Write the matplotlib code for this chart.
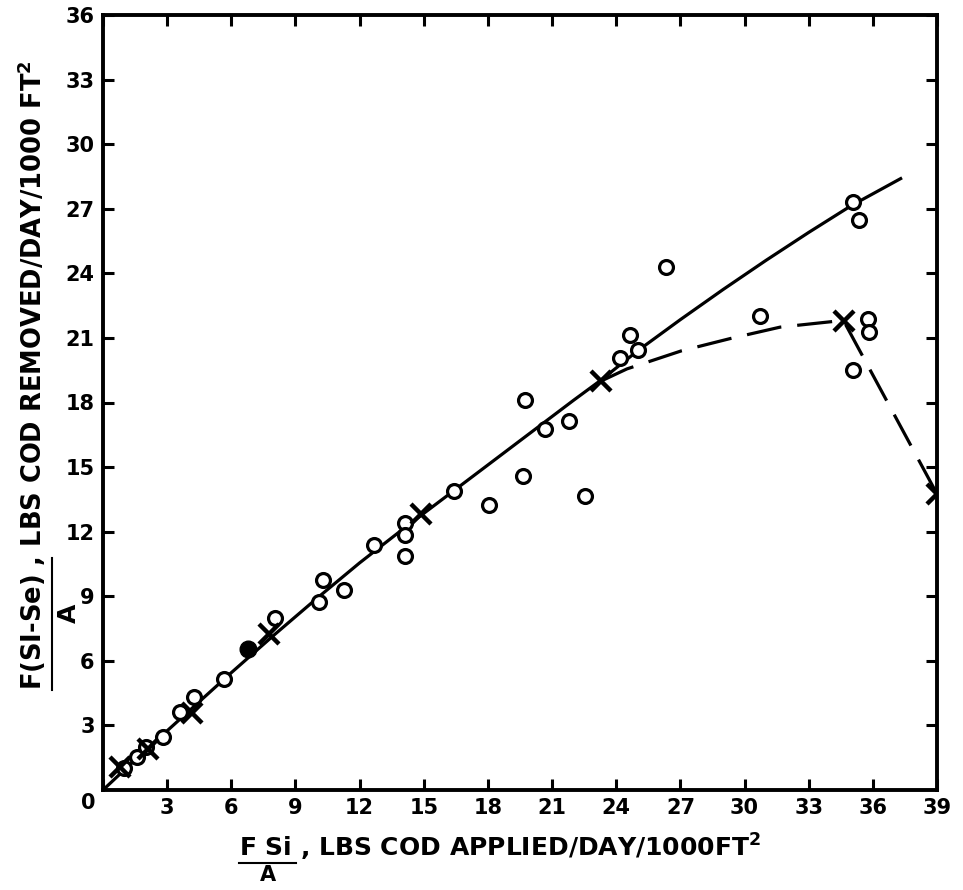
import numpy as np
import matplotlib.pyplot as plt
from matplotlib.lines import Line2D
from matplotlib.transforms import ScaledTranslation

# Puntos medidos (circulos abiertos)
obs_x = [1.0, 1.6, 2.0, 2.8, 3.6, 4.27, 5.64, 8.06, 10.1, 10.3, 11.27, 12.67,
         14.13, 14.13, 14.13, 16.42, 18.06, 19.63, 19.74, 20.69, 21.78, 22.55,
         24.16, 24.63, 25.0, 26.33, 30.73, 35.05, 35.36, 35.77, 35.83, 35.09]
obs_y = [1.0, 1.55, 2.0, 2.47, 3.63, 4.33, 5.15, 8.0, 8.74, 9.74, 9.3, 11.4,
         12.4, 11.83, 10.86, 13.87, 13.25, 14.58, 18.1, 16.78, 17.14, 13.66,
         20.08, 21.15, 20.45, 24.3, 22.0, 27.3, 26.5, 21.88, 21.27, 19.49]

# Punto relleno
lleno_x = [6.8]
lleno_y = [6.57]

# Valores promedio (cruces)
cruz_x = [0.8, 2.1, 4.15, 7.75, 14.86, 23.3, 34.63, 38.99]
cruz_y = [1.05, 1.9, 3.6, 7.25, 12.84, 19.0, 21.8, 13.77]

# Curva continua
curva_x = [0, 1.5, 3, 4.5, 6, 8, 10, 12, 14, 16, 18, 20, 22, 23.3, 25, 27,
           29, 31, 33, 35, 37.3]
curva_y = [0, 1.4, 2.75, 4.1, 5.45, 7.2, 8.9, 10.55, 12.1, 13.6, 15.1, 16.6,
           18.1, 19.05, 20.4, 21.85, 23.25, 24.6, 25.9, 27.15, 28.4]

# Curva discontinua
trazos_x = [23.3, 24.5, 27.05, 29.33, 31.66, 34.3, 34.63, 38.99]
trazos_y = [19.0, 19.56, 20.4, 20.97, 21.5, 21.78, 21.8, 13.77]

W, H = 963, 890
fig = plt.figure(figsize=(W / 100, H / 100), dpi=100)
ax = fig.add_axes([103 / W, 1 - 790 / H, (937 - 103) / W, (790 - 15) / H])

ax.plot(curva_x, curva_y, color='black', lw=2.3)
ax.plot(trazos_x, trazos_y, color='black', lw=2.3, dashes=(11, 5))
ax.plot(obs_x, obs_y, 'o', ms=10, mfc='white', mec='black', mew=2.3)
ax.plot(lleno_x, lleno_y, 'o', ms=12, color='black')
ax.plot(cruz_x, cruz_y, 'x', ms=15, mew=3.2, color='black')

ax.set_xlim(0, 39)
ax.set_ylim(0, 36)
ax.set_xticks(range(0, 40, 3))
ax.set_yticks(range(3, 37, 3))
ax.tick_params(direction='in', length=8, width=2.2, top=True, right=True,
               labelsize=15, pad=6)
for lab in ax.get_xticklabels() + ax.get_yticklabels():
    lab.set_fontweight('bold')
# el cero va en la esquina
cero = ax.get_xticklabels()[0]
cero.set_transform(cero.get_transform() +
                   ScaledTranslation(-15 / 100, 5 / 100, fig.dpi_scale_trans))
for s in ax.spines.values():
    s.set_linewidth(2.8)

# Etiqueta del eje y (fraccion)
fig.text(32 / W, 1 - 690 / H,
         r'F(SI-Se) , LBS COD REMOVED/DAY/1000 FT$^{\mathbf{2}}$',
         rotation=90, ha='center', va='bottom', fontsize=18.5, fontweight='bold')
fig.add_artist(Line2D([52 / W, 52 / W], [1 - 690 / H, 1 - 558 / H],
                      color='black', lw=1.5, transform=fig.transFigure))
fig.text(69 / W, 1 - 613 / H, 'A', rotation=90, ha='center', va='center',
         fontsize=18, fontweight='bold')

# Etiqueta del eje x (fraccion)
fig.text(239 / W, 1 - 847 / H,
         r'F Si , LBS COD APPLIED/DAY/1000FT$^{\mathbf{2}}$',
         ha='left', va='center', fontsize=18, fontweight='bold')
fig.add_artist(Line2D([239 / W, 296 / W], [1 - 863 / H, 1 - 863 / H],
                      color='black', lw=1.5, transform=fig.transFigure))
fig.text(268 / W, 1 - 875 / H, 'A', ha='center', va='center',
         fontsize=15, fontweight='bold')

fig.savefig('out.png', dpi=100)
